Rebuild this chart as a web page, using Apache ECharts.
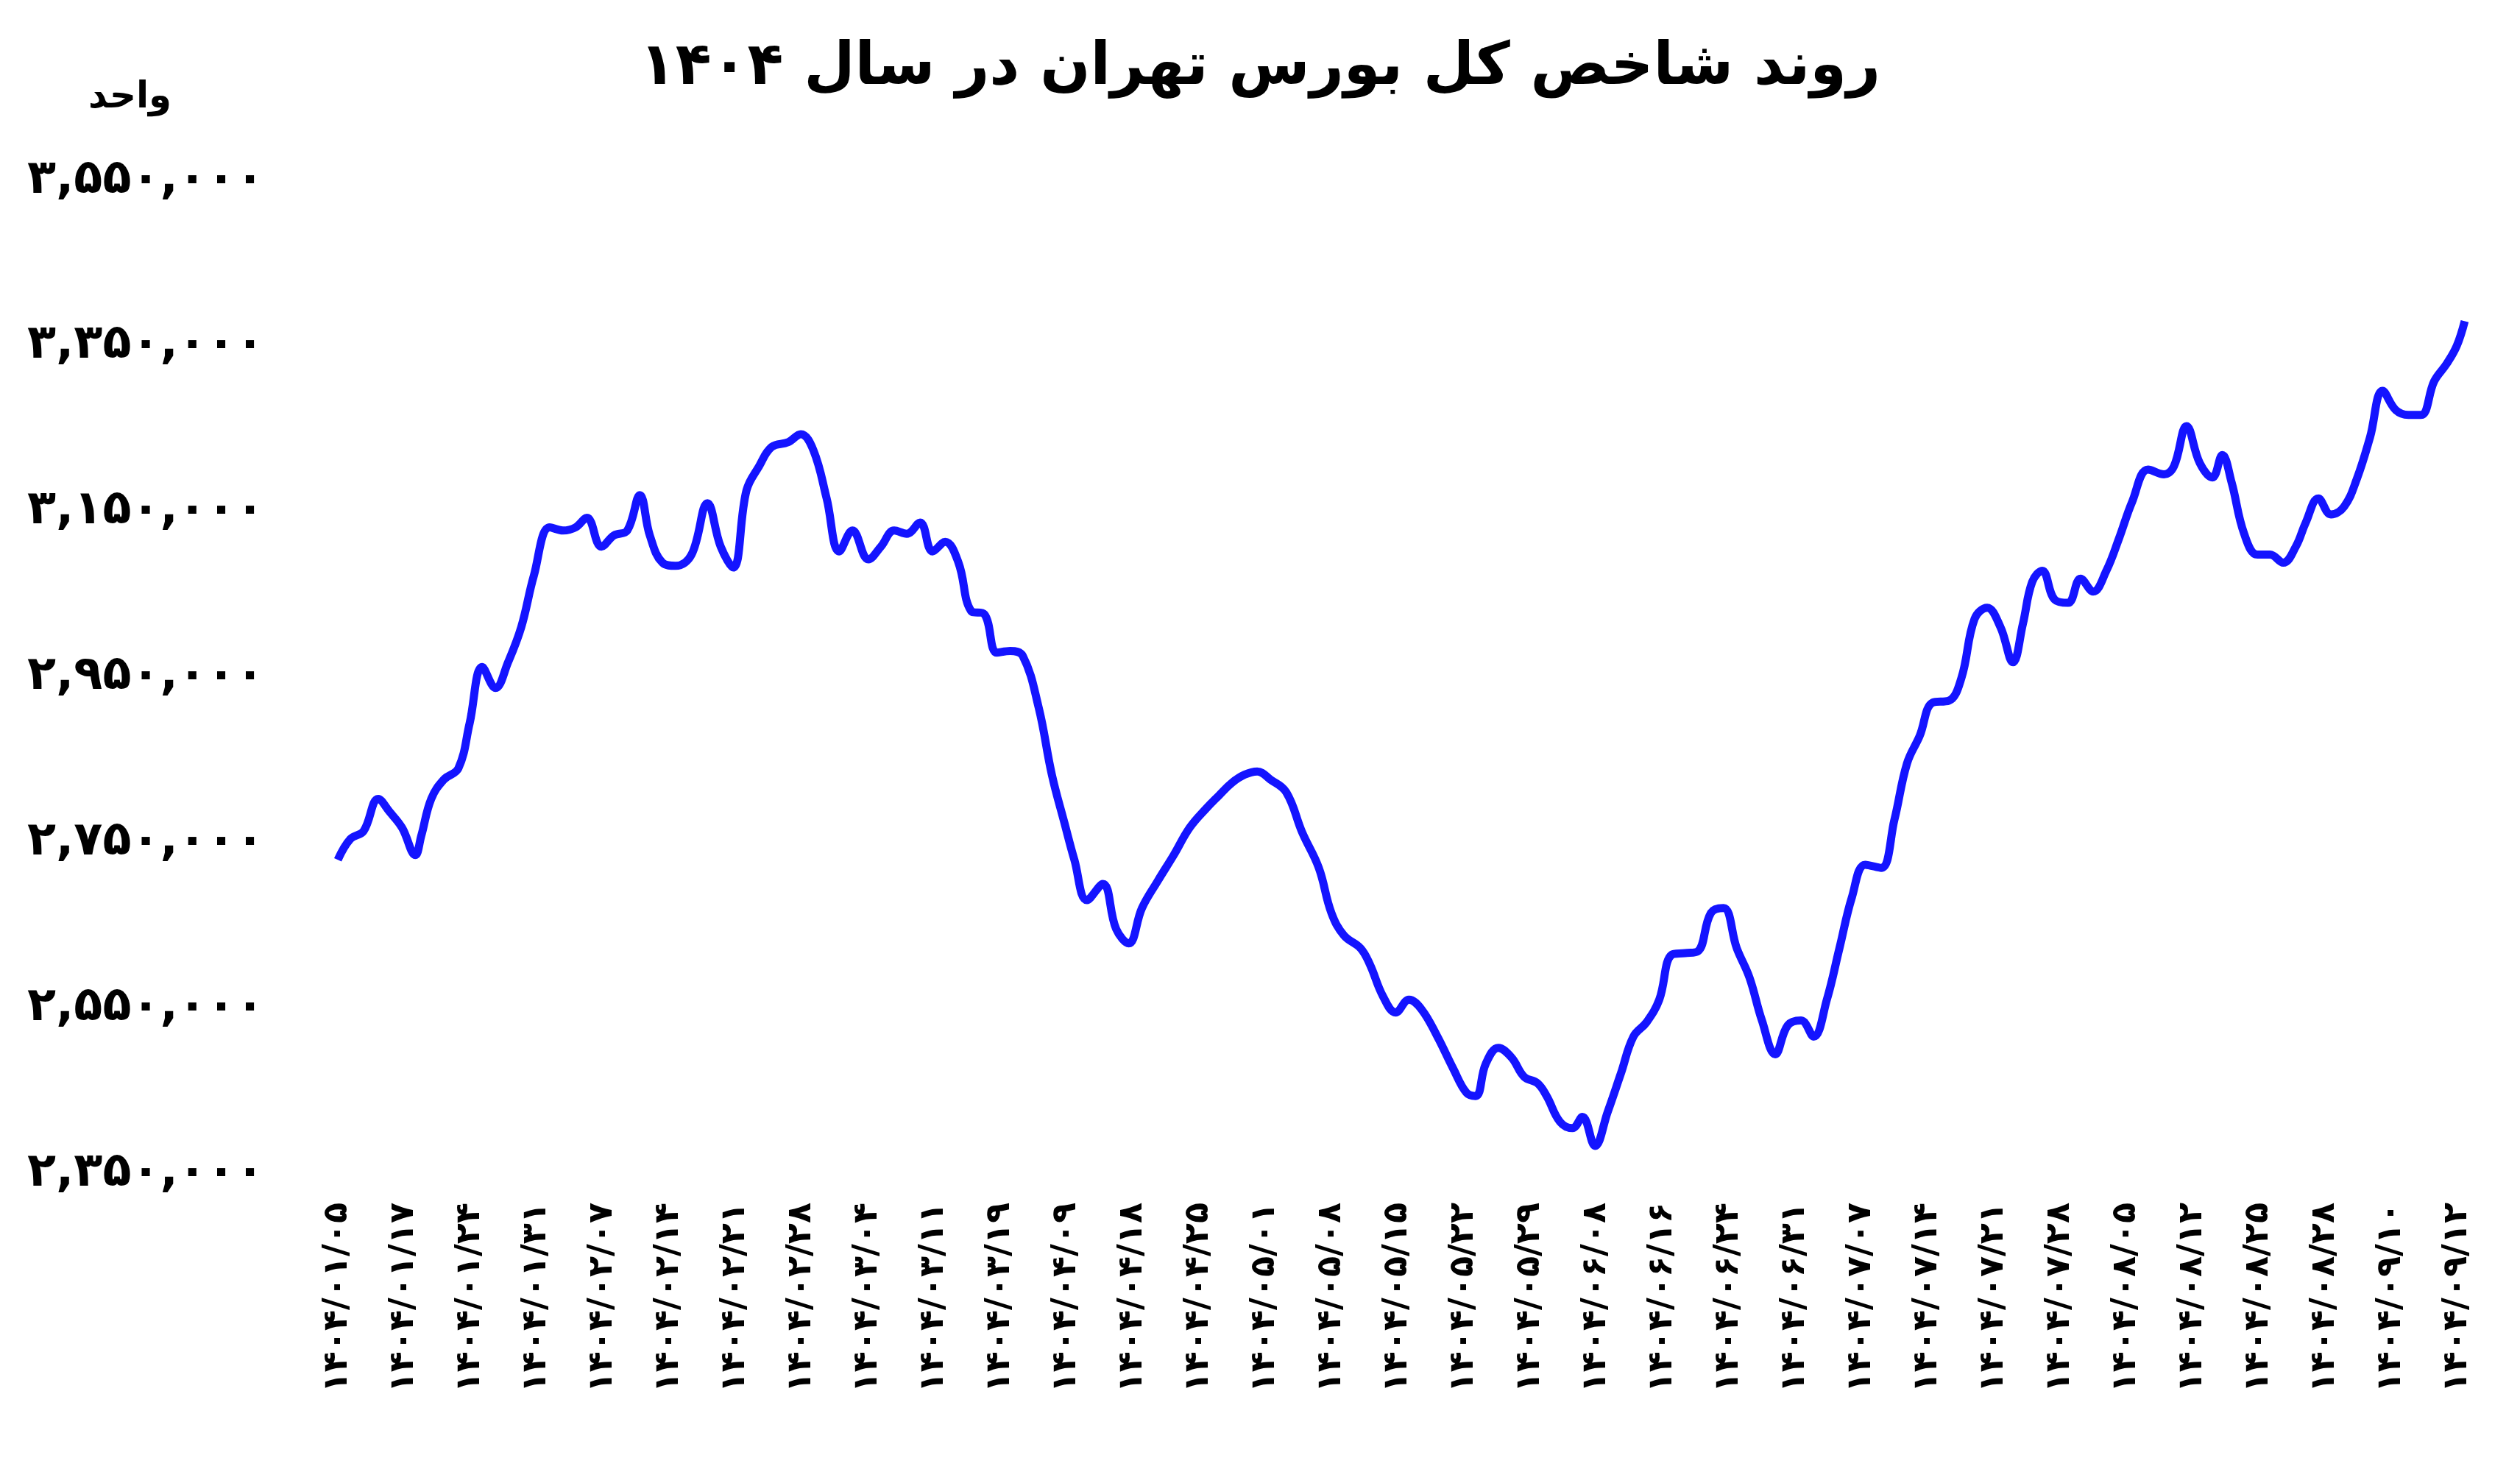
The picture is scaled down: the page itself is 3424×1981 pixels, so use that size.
<!DOCTYPE html>
<html><head><meta charset="utf-8">
<script src="https://cdn.jsdelivr.net/npm/echarts@6/dist/echarts.min.js"></script>
<style>html,body{margin:0;padding:0;background:#fff}#c{width:3424px;height:1981px}</style>
</head><body><div id="c"></div>
<script>
const title = 'روند شاخص کل بورس تهران در سال ۱۴۰۴';
const unitLabel = 'واحد';
const dateLabels = ['1404/01/05','1404/01/17','1404/01/24','1404/01/31','1404/02/07','1404/02/14','1404/02/21','1404/02/28','1404/03/04','1404/03/11','1404/03/19','1404/04/09','1404/04/18','1404/04/25','1404/05/01','1404/05/08','1404/05/15','1404/05/22','1404/05/29','1404/06/08','1404/06/16','1404/06/24','1404/06/31','1404/07/07','1404/07/14','1404/07/21','1404/07/28','1404/08/05','1404/08/12','1404/08/25','1404/08/28','1404/09/10','1404/09/12'];
// position in label-interval units
const xPos = [0,0.19,0.39,0.61,0.78,0.97,1.17,1.26,1.41,1.60,1.82,1.99,2.18,2.38,2.57,2.77,2.96,3.20,3.40,3.59,3.76,3.98,4.17,4.37,4.56,4.71,4.90,5.10,5.34,5.58,5.78,5.97,6.17,6.36,6.55,6.80,6.99,7.18,7.38,7.57,7.77,8.01,8.20,8.40,8.59,8.79,8.98,9.17,9.37,9.56,9.76,9.95,10.15,10.34,10.58,10.78,10.97,11.12,11.31,11.55,11.75,11.94,12.14,12.38,12.62,12.86,13.11,13.30,13.50,13.69,13.88,14.08,14.32,14.56,14.81,15.00,15.19,15.44,15.58,15.78,15.97,16.17,16.36,16.60,16.84,17.04,17.18,17.33,17.52,17.72,17.91,18.11,18.25,18.45,18.64,18.79,18.98,19.17,19.37,19.56,19.76,19.95,20.14,20.34,20.53,20.73,20.92,21.12,21.31,21.50,21.70,21.89,22.09,22.28,22.48,22.67,22.86,23.06,23.30,23.50,23.69,23.88,24.08,24.32,24.51,24.71,24.90,25.10,25.29,25.44,25.58,25.73,25.92,26.12,26.31,26.50,26.70,26.89,27.09,27.33,27.57,27.72,27.91,28.11,28.30,28.45,28.59,28.78,28.98,29.17,29.37,29.56,29.71,29.90,30.09,30.29,30.48,30.68,30.87,31.07,31.26,31.45,31.65,31.84,31.99,32.11];
// index value in thousands
const indexK = [2728.7,2753.9,2763.6,2802.4,2786.9,2767.5,2734.5,2757.8,2802.4,2825.7,2839.3,2893.7,2961.7,2936.4,2967.5,3010.2,3072.3,3130.6,3126.7,3130.6,3142.2,3107.3,3120.9,3126.7,3169.4,3120.9,3087.9,3084,3097.6,3159.7,3107.3,3082,3175.3,3204.4,3227.7,3233.5,3243.2,3223.8,3165.5,3101.5,3126.7,3091.8,3107.3,3126.7,3122.8,3136.4,3101.5,3113.1,3087.9,3029.6,3025.7,2979.1,2981.1,2975.3,2913.1,2831.6,2773.3,2728.7,2680.1,2699.5,2645.2,2627.7,2670.4,2703.4,2734.5,2767.5,2790.8,2806.3,2821.9,2831.6,2835.5,2825.7,2810.2,2761.7,2719,2664.6,2637.4,2621.9,2602.5,2563.6,2544.2,2559.7,2548.1,2515.1,2476.2,2447.1,2443.2,2482.1,2501.5,2489.8,2466.5,2458.8,2443.2,2412.2,2404.4,2418,2383,2423.8,2470.4,2515.1,2532.6,2559.7,2614.1,2616,2618,2664.6,2670.4,2621.9,2586.9,2534.5,2493.7,2528.7,2534.5,2515.1,2559.7,2621.9,2684,2722.8,2719,2777.2,2845.2,2878.2,2918.9,2920.9,2948.1,3019.9,3033.5,3010.2,2967.5,3014.1,3064.6,3078.2,3043.2,3039.3,3068.5,3052.9,3078.2,3117,3161.7,3200.5,3194.7,3204.4,3252.9,3208.3,3190.8,3218,3185,3122.8,3097.6,3097.6,3087.9,3107.3,3136.4,3165.5,3146.1,3155.8,3188.8,3239.3,3295.6,3272.3,3266.5,3266.5,3307.3,3328.6,3350,3379.863];

const fa = s => String(s).replace(/[0-9]/g, d => '۰۱۲۳۴۵۶۷۸۹'[d]);
const fmt = v => fa(Math.round(v).toLocaleString('en-US'));
const FONT = '"DejaVu Sans", "Noto Sans", sans-serif';

const data = xPos.map((x, i) => [x, indexK[i] * 1000]);
const last = data.length - 1;
data[last] = {value: data[last], label: {show: true, position: 'top', offset: [-70, -8],
  formatter: p => fmt(p.value[1]), fontSize: 50, fontWeight: 'bold', color: '#111', fontFamily: FONT}};

const chart = echarts.init(document.getElementById('c'));
chart.setOption({
  backgroundColor: '#fff',
  animation: false,
  title: {text: title, left: 'center', top: 48, textStyle: {fontSize: 80, fontWeight: 'bold', color: '#000', fontFamily: FONT}},
  graphic: [{type: 'text', left: 120, top: 108, style: {text: unitLabel, fontSize: 50, fontWeight: 'bold', fill: '#000', fontFamily: FONT}}],
  grid: {left: 459, right: 67, top: 245, bottom: 387},
  xAxis: {type: 'value', min: 0, max: 32.2, interval: 1,
    axisLine: {show: false}, axisTick: {show: false}, splitLine: {show: false},
    axisLabel: {rotate: 90, margin: 40, fontSize: 46, fontWeight: 'bold', color: '#000', fontFamily: FONT,
      showMaxLabel: false,
      formatter: v => (Number.isInteger(v) && dateLabels[v]) ? fa(dateLabels[v]) : ''}},
  yAxis: {type: 'value', min: 2350000, max: 3550000, interval: 200000,
    axisLine: {show: false}, axisTick: {show: false}, splitLine: {show: false},
    axisLabel: {margin: 100, fontSize: 64, fontWeight: 'bold', color: '#000', fontFamily: FONT, formatter: v => fmt(v)}},
  series: [{type: 'line', data: data, smooth: 0.4, showSymbol: false, symbol: 'none',
    lineStyle: {color: '#1414ff', width: 11}}]
});
</script></body></html>
